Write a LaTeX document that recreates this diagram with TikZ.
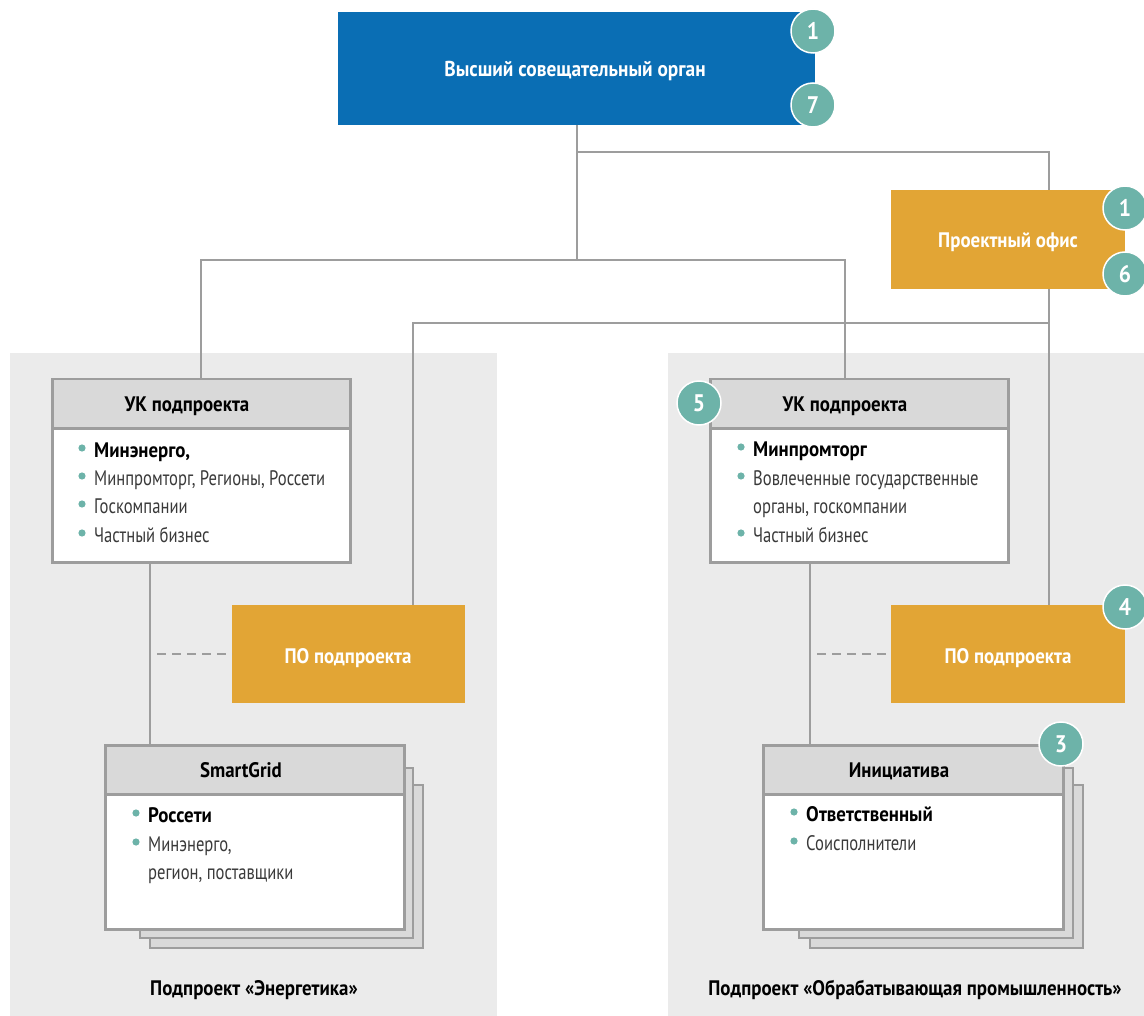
\documentclass[tikz,border=0pt]{standalone}
\usepackage{fontspec}
\setmainfont[FakeStretch=0.79, BoldFeatures={FakeStretch=0.9}]{PT Sans}
\definecolor{blueorg}{HTML}{0A6EB4}
\definecolor{orangeorg}{HTML}{E2A535}
\definecolor{tealorg}{HTML}{6DB3A9}
\definecolor{panelgray}{HTML}{EBEBEB}
\definecolor{headgray}{HTML}{D9D9D9}
\definecolor{linegray}{HTML}{9D9D9D}
\definecolor{txtgray}{HTML}{3A3A3A}
\tikzset{
  conn/.style={draw=linegray, line width=2pt},
  dashline/.style={draw=linegray, line width=2pt, dash pattern=on 9pt off 6pt},
  fillbox/.style={rectangle, inner sep=0pt, anchor=north west},
  cardframe/.style={draw=linegray, line width=2.5pt},
  badge/.style={circle, fill=tealorg, draw=white, line width=1.5pt, minimum size=44pt, inner sep=0pt, text=white, font=\bfseries\fontsize{24}{24}\selectfont},
  itm/.style={anchor=base west, inner sep=0pt, text=txtgray, font=\fontsize{21}{21}\selectfont},
  bitm/.style={anchor=base west, inner sep=0pt, text=black, font=\bfseries\fontsize{21}{21}\selectfont},
  hdr/.style={anchor=base, inner sep=0pt, text=black, font=\bfseries\fontsize{21}{21}\selectfont},
  wtitle/.style={anchor=base, inner sep=0pt, text=white, font=\bfseries\fontsize{21}{21}\selectfont},
}
\newcommand\bdot[2]{\fill[tealorg] (#1-12,#2-9) circle (3.6pt);}
\begin{document}
\begin{tikzpicture}[x=1pt,y=-1pt]
\useasboundingbox (0,0) rectangle (1144,1016);
% panels
\fill[panelgray] (10,353) rectangle (497,1016);
\fill[panelgray] (668,353) rectangle (1144,1016);

% helper coordinates
\coordinate (xR) at (1049,0);
\coordinate (xUKR) at (845,0);
\coordinate (xPOL) at (413,0);
\coordinate (xL1) at (150,0);
\coordinate (xR1) at (810,0);
\coordinate (dL) at (157,0);
\coordinate (dR) at (817,0);
\coordinate (hA) at (0,152);
\coordinate (hB) at (0,260);
\coordinate (hC) at (0,323);

% boxes (nodes)
\node[fillbox, fill=blueorg, minimum width=477pt, minimum height=113pt] (top) at (338,12) {};
\node[fillbox, fill=orangeorg, minimum width=234pt, minimum height=99pt] (po) at (891,190) {};
\node[fillbox, fill=orangeorg, minimum width=233pt, minimum height=98pt] (poL) at (232,605) {};
\node[fillbox, fill=orangeorg, minimum width=234pt, minimum height=98pt] (poR) at (891,605) {};

% cards: UK left
\node[fillbox, fill=white, cardframe, minimum width=298pt, minimum height=183pt] (ukL) at (51,378) {};
\node[fillbox, fill=headgray, cardframe, minimum width=298pt, minimum height=49pt] (ukLh) at (51,378) {};
% UK right
\node[fillbox, fill=white, cardframe, minimum width=298pt, minimum height=183pt] (ukR) at (709,378) {};
\node[fillbox, fill=headgray, cardframe, minimum width=298pt, minimum height=49pt] (ukRh) at (709,378) {};
% SmartGrid stack
\draw[cardframe, fill=headgray] (150,785) rectangle (423,948);
\draw[cardframe, fill=headgray] (140,768) rectangle (413,938);
\node[fillbox, fill=white, cardframe, minimum width=299pt, minimum height=184pt] (sg) at (104,744) {};
\node[fillbox, fill=headgray, cardframe, minimum width=299pt, minimum height=49pt] (sgh) at (104,744) {};
% Initiative stack
\draw[cardframe, fill=headgray] (810,785) rectangle (1083,948);
\draw[cardframe, fill=headgray] (799,768) rectangle (1073,938);
\node[fillbox, fill=white, cardframe, minimum width=300pt, minimum height=184pt] (ini) at (762,744) {};
\node[fillbox, fill=headgray, cardframe, minimum width=300pt, minimum height=49pt] (inih) at (762,744) {};

% connectors
\draw[conn] (top.south) -- (top.south |- hB);
\draw[conn] (top.south |- hA) -| (po.north -| xR);
\draw[conn] (ukL.north) |- (top.south |- hB);
\draw[conn] (top.south |- hB) -| (ukR.north -| xUKR);
\draw[conn] (po.south -| xR) -- (poR.north -| xR);
\draw[conn] (poL.north -| xPOL) |- (xR |- hC);
\draw[conn] (ukL.south -| xL1) -- (sg.north -| xL1);
\draw[conn] (ukR.south -| xR1) -- (ini.north -| xR1);
\draw[dashline] (dL |- poL.west) -- (poL.west);
\draw[dashline] (dR |- poR.west) -- (poR.west);

% titles
\node[wtitle, font=\bfseries\fontsize{21.5}{21.5}\selectfont] (tTop) at (575,77) {Высший совещательный орган};
\node[wtitle] (tPO) at (1008,248) {Проектный офис};
\node[wtitle] (tPOL) at (348,663) {ПО подпроекта};
\node[wtitle] (tPOR) at (1008,663) {ПО подпроекта};
\node[hdr] (hUKL) at (187,412) {УК подпроекта};
\node[hdr] (hUKR) at (845,412) {УК подпроекта};
\node[hdr] (hSG) at (241,777) {SmartGrid};
\node[hdr] (hINI) at (899,777) {Инициатива};

% items left UK
\node[bitm] (l1) at (94,457) {Минэнерго,}; \bdot{94}{457}
\node[itm] (l2) at (94,485) {Минпромторг, Регионы, Россети}; \bdot{94}{485}
\node[itm] (l3) at (94,513) {Госкомпании}; \bdot{94}{513}
\node[itm] (l4) at (94,542) {Частный бизнес}; \bdot{94}{542}
% items right UK
\node[bitm] (r1) at (753,456) {Минпромторг}; \bdot{753}{456}
\node[itm] (r2) at (753,485) {Вовлеченные государственные}; \bdot{753}{485}
\node[itm] (r3) at (753,513) {органы, госкомпании};
\node[itm] (r4) at (753,542) {Частный бизнес}; \bdot{753}{542}
% SmartGrid items
\node[bitm] (s1) at (148,822) {Россети}; \bdot{148}{822}
\node[itm] (s2) at (148,851) {Минэнерго,}; \bdot{148}{851}
\node[itm] (s3) at (148,879) {регион, поставщики};
% Initiative items
\node[bitm] (i1) at (806,821) {Ответственный}; \bdot{806}{821}
\node[itm] (i2) at (806,850) {Соисполнители}; \bdot{806}{850}

% bottom labels
\node[hdr] (capL) at (254,995) {Подпроект «Энергетика»};
\node[hdr] (capR) at (915,995) {Подпроект «Обрабатывающая промышленность»};

% badges
\node[badge] (b1) at (813,31) {1};
\node[badge] (b7) at (813,105) {7};
\node[badge] (b1b) at (1125,208) {1};
\node[badge] (b6) at (1125,274) {6};
\node[badge] (b5) at (699,403) {5};
\node[badge] (b4) at (1125,607) {4};
\node[badge] (b3) at (1061,744) {3};
\end{tikzpicture}
\end{document}
